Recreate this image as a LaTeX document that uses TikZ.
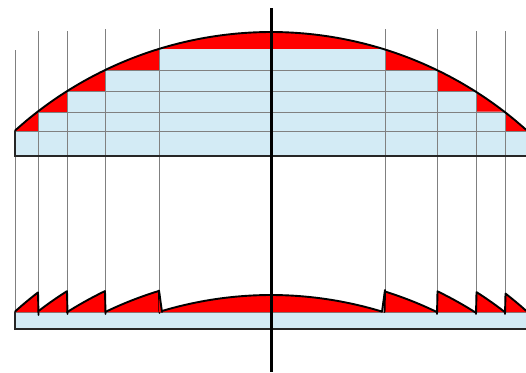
\documentclass[tikz,border=0pt]{standalone}
\definecolor{lensblue}{HTML}{D3EBF5}
\definecolor{gridgrey}{HTML}{808080}
\tikzset{
  declare function={arcy(\x)=415-100*sqrt(3.83^2-(((\x<271)?(\x-271.5):(\x-270.5))/100)^2);},
  thinline/.style={draw=gridgrey,line width=1pt},
  profile/.style={draw=black,line width=1.9pt,line join=round,line cap=round},
  axisline/.style={draw=black,line width=2.4pt},
  edgeline/.style={draw=black!85,line width=1.8pt}
}
% \seg{x1}{x2}{y-shift}: path along the surface between x1 and x2
\newcommand{\seg}[3]{plot[domain=#1:#2,samples=40,smooth] (\x,{arcy(\x)+#3})}
\newcommand{\toothL}[4]{% x1,x2,shift,drop y: sawtooth rising to the right
  \fill[red] \seg{#1}{#2}{#3} -- (#2,312) -- (#1,312) -- cycle;
  \draw[profile] \seg{#1}{#2}{#3} -- (#2+0.5,#4);}
\newcommand{\toothR}[4]{% x1,x2,shift,drop y: sawtooth falling to the right
  \fill[red] \seg{#1}{#2}{#3} -- (#2,312) -- (#1,312) -- cycle;
  \draw[profile] \seg{#2}{#1}{#3} -- (#1-0.5,#4);}
\begin{document}
\begin{tikzpicture}[x=1pt,y=-1pt]
\useasboundingbox (0,0) rectangle (526,372);
\fill[white] (0,0) rectangle (526,372);
% upper plano-convex lens
\fill[red] \seg{15}{526}{0} -- (526,156) -- (15,156) -- cycle;
\fill[lensblue] (15,156) -- (15,131.5) -- (38,131.5) -- (38,112) -- (67,112) -- (67,91) -- (105,91)
  -- (105,70) -- (159,70) -- (159,49) -- (385,49) -- (385,70) -- (437,70) -- (437,91)
  -- (476,91) -- (476,111.5) -- (505,111.5) -- (505,131.5) -- (526,131.5) -- (526,156) -- cycle;
\draw[thinline] (105,70) -- (437,70);
\draw[thinline] (67,91) -- (476,91);
\draw[thinline] (38,112) -- (505,112);
\draw[thinline] (15,131.5) -- (526,131.5);
% lower Fresnel lens base
\fill[lensblue] (15,312) rectangle (526,329);
% vertical construction lines
\draw[thinline] (15,50) -- (15,131) (15,156) -- (15,312);
\foreach \px/\ptop in {38/31,67/31,105/29,159/29,385/29,437/29,476/31,505/31}
  \draw[thinline] (\px,\ptop) -- (\px,312);
\draw[thinline] (15,312) -- (526,312);
% Fresnel teeth
\toothL{15}{38}{181}{315}
\toothL{38.5}{67}{200}{314}
\toothL{67}{105}{221}{314}
\toothL{105.5}{159}{242}{313}
\fill[red] \seg{162}{382}{263} -- (385,312) -- (159,312) -- cycle;
\fill[red] (159,290.5) -- (162,312) -- (159,312) -- cycle;
\draw[profile] \seg{162}{382}{263} -- (385,290);
\draw[profile] (159,290.5) -- (162,312);
\toothR{385}{437}{242}{312}
\toothR{437.5}{476}{221}{314}
\toothR{476.5}{505}{200}{314}
\toothR{505.5}{526}{181}{314}
% outlines
\draw[profile] \seg{15}{526}{0};
\draw[edgeline] (15,131) -- (15,156) -- (526,156);
\draw[edgeline] (15,312) -- (15,329) -- (526,329);
\draw[axisline] (271.5,8) -- (271.5,372);
\end{tikzpicture}
\end{document}
